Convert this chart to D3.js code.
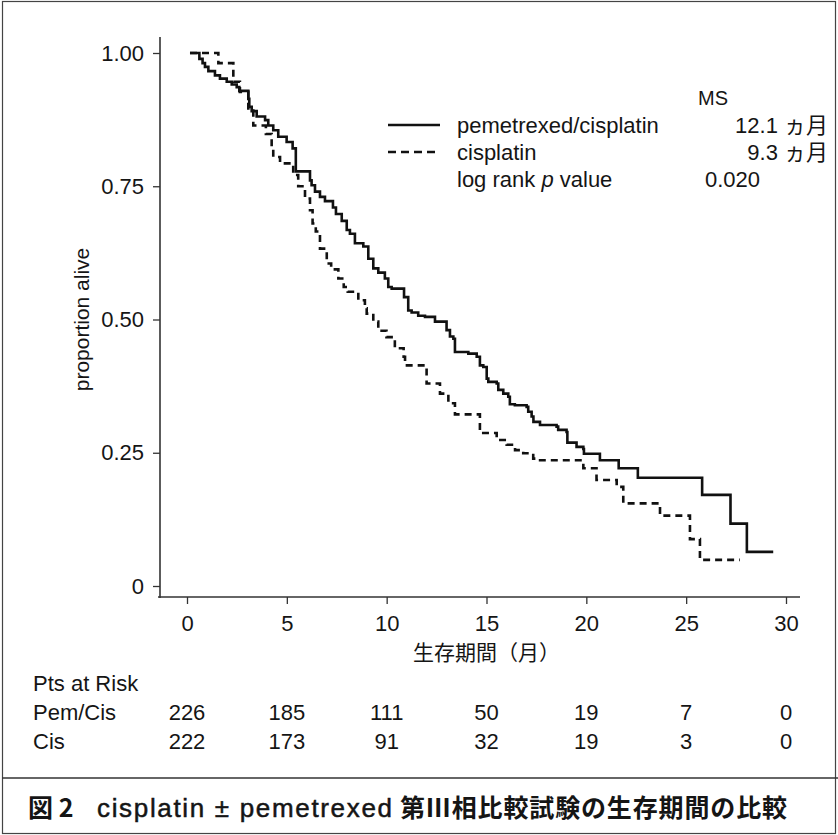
<!DOCTYPE html>
<meta charset="utf-8">
<title>cisplatin ± pemetrexed survival</title>
<script src="https://d3js.org/d3.v7.min.js"></script>
<style>
  body { margin: 0; background: #fff; }
  text { font-family: "Liberation Sans", "Noto Sans CJK JP", sans-serif; fill: #151515; }
  .jp { font-family: "Noto Sans CJK JP", sans-serif; }
</style>
<body>
<script>

// data
var months = [0, 5, 10, 15, 20, 25, 30];
var yTicks = [0, 0.25, 0.5, 0.75, 1];
var riskPemCis = [226, 185, 111, 50, 19, 7, 0];
var riskCis = [222, 173, 91, 32, 19, 3, 0];

// [month, proportion alive] – start of each step
var pemCis = [
  [0.15,1.000],[0.62,0.989],[0.78,0.981],[0.90,0.974],[1.07,0.966],[1.40,0.958],
  [1.65,0.952],[1.99,0.946],[2.24,0.941],[2.49,0.936],[2.62,0.929],[3.07,0.914],
  [3.12,0.899],[3.24,0.891],[3.49,0.881],[3.91,0.874],[4.07,0.864],[4.32,0.855],
  [4.57,0.843],[4.99,0.833],[5.29,0.821],[5.45,0.778],[6.16,0.761],[6.24,0.752],
  [6.41,0.740],[6.66,0.730],[6.91,0.722],[7.31,0.710],[7.46,0.698],[7.75,0.685],
  [8.00,0.668],[8.16,0.661],[8.41,0.643],[8.83,0.637],[9.08,0.614],[9.33,0.596],
  [9.58,0.588],[9.91,0.577],[10.08,0.561],[10.25,0.558],[10.87,0.542],[11.08,0.517],
  [11.25,0.513],[11.58,0.507],[11.92,0.505],[12.42,0.496],[13.00,0.480],[13.17,0.468],
  [13.34,0.464],[13.42,0.439],[14.09,0.436],[14.51,0.430],[14.67,0.414],[14.84,0.411],
  [15.01,0.389],[15.09,0.383],[15.51,0.380],[15.59,0.368],[15.84,0.361],[16.09,0.355],
  [16.17,0.341],[16.42,0.339],[17.01,0.336],[17.09,0.327],[17.26,0.318],[17.35,0.308],
  [17.68,0.302],[18.51,0.299],[18.59,0.293],[19.01,0.289],[19.05,0.269],[19.51,0.261],
  [19.85,0.257],[19.88,0.248],[20.68,0.236],[21.62,0.221],[22.58,0.203],[25.80,0.171],
  [27.22,0.117],[28.04,0.064],[29.36,0.064]
];
var cis = [
  [0.15,1.000],[1.57,0.981],[2.32,0.946],[2.65,0.927],[3.07,0.892],[3.32,0.864],
  [3.95,0.848],[4.24,0.821],[4.32,0.805],[4.66,0.793],[5.32,0.771],[5.57,0.750],
  [5.91,0.727],[6.16,0.705],[6.29,0.680],[6.45,0.665],[6.66,0.633],[7.00,0.605],
  [7.22,0.594],[7.58,0.577],[7.85,0.561],[8.05,0.552],[8.58,0.536],[8.91,0.521],
  [9.00,0.511],[9.33,0.496],[9.58,0.479],[9.99,0.467],[10.41,0.446],[10.85,0.430],
  [10.92,0.414],[12.00,0.380],[12.67,0.361],[13.09,0.343],[13.42,0.322],[14.67,0.287],
  [15.51,0.274],[16.01,0.265],[16.43,0.255],[16.84,0.249],[17.34,0.239],[17.60,0.236],
  [19.85,0.221],[20.51,0.199],[21.52,0.186],[21.85,0.155],[23.69,0.132],[25.19,0.088],
  [25.69,0.049],[27.69,0.049]
];

var seriesNames = ["pemetrexed/cisplatin", "cisplatin"];
var medianSurvival = ["12.1 ヵ月", "9.3 ヵ月"];
var pValue = "0.020";
var riskRows = ["Pem/Cis", "Cis"];

var width = 838, height = 835;

var svg = d3.select("body").append("svg")
    .attr("width", width)
    .attr("height", height);

// frame + caption separator
svg.append("rect")
    .attr("x", 2.5).attr("y", 1.5)
    .attr("width", width - 5).attr("height", height - 3)
    .attr("fill", "none").attr("stroke", "#444").attr("stroke-width", 1.2);
svg.append("line")
    .attr("x1", 2).attr("x2", width)
    .attr("y1", 778).attr("y2", 778)
    .attr("stroke", "#333").attr("stroke-width", 1.5);

var x = d3.scaleLinear().domain([0, 30]).range([187, 786]),
    y = d3.scaleLinear().domain([0, 1]).range([586, 53]);

// axes
var gx = svg.append("g")
    .attr("transform", "translate(0,597)")
    .call(d3.axisBottom(x).tickValues(months).tickSize(7).tickPadding(11).tickSizeOuter(0));
var gy = svg.append("g")
    .attr("transform", "translate(160,0)")
    .call(d3.axisLeft(y).tickValues(yTicks).tickSize(7).tickPadding(9).tickSizeOuter(0)
      .tickFormat(function(d) { return d === 0 ? "0" : d.toFixed(2); }));
[gx, gy].forEach(function(g) {
  g.select(".domain").remove();
  g.selectAll(".tick line").attr("stroke", "#333").attr("stroke-width", 1.3);
  g.selectAll(".tick text").attr("font-size", 22).attr("fill", "#151515")
    .style("font-family", "'Liberation Sans', sans-serif");
});
svg.append("line")
    .attr("x1", 158).attr("x2", 800).attr("y1", 597).attr("y2", 597)
    .attr("stroke", "#333").attr("stroke-width", 1.6);
svg.append("line")
    .attr("x1", 160).attr("x2", 160).attr("y1", 37).attr("y2", 598)
    .attr("stroke", "#333").attr("stroke-width", 1.6);

// axis titles
svg.append("text")
    .attr("class", "jp")
    .attr("x", (x(0) + x(30)) / 2).attr("y", 660)
    .attr("text-anchor", "middle")
    .attr("font-size", 21)
    .text("生存期間（月）");
svg.append("text")
    .attr("transform", "translate(89," + y(0.5) + ") rotate(-90)")
    .attr("text-anchor", "middle")
    .attr("font-size", 21)
    .text("proportion alive");

// survival curves
var line = d3.line()
    .x(function(d) { return x(d[0]); })
    .y(function(d) { return y(d[1]); })
    .curve(d3.curveStepAfter);

svg.append("path")
    .datum(pemCis)
    .attr("d", line)
    .attr("fill", "none").attr("stroke", "#111").attr("stroke-width", 2.6);
svg.append("path")
    .datum(cis)
    .attr("d", line)
    .attr("fill", "none").attr("stroke", "#111").attr("stroke-width", 2.6)
    .attr("stroke-dasharray", "7,5");

// legend
var legend = svg.append("g");
legend.append("text").attr("x", 698).attr("y", 105).attr("font-size", 20).text("MS");
var dashes = [null, "8,5"];
seriesNames.forEach(function(name, i) {
  var ly = 125 + i * 27;
  legend.append("line")
      .attr("x1", 388).attr("x2", 440).attr("y1", ly).attr("y2", ly)
      .attr("stroke", "#111").attr("stroke-width", 2.6)
      .attr("stroke-dasharray", dashes[i]);
  legend.append("text").attr("x", 457).attr("y", ly + 8).attr("font-size", 22).text(name);
  legend.append("text").attr("x", 828).attr("y", ly + 8).attr("font-size", 22)
      .attr("text-anchor", "end").text(medianSurvival[i]);
});
var lr = legend.append("text").attr("x", 457).attr("y", 187).attr("font-size", 22);
lr.append("tspan").text("log rank ");
lr.append("tspan").attr("font-style", "italic").text("p");
lr.append("tspan").text(" value");
legend.append("text").attr("x", 705).attr("y", 187).attr("font-size", 22).text(pValue);

// patients at risk
svg.append("text").attr("x", 33).attr("y", 691).attr("font-size", 22).text("Pts at Risk");
[riskPemCis, riskCis].forEach(function(row, i) {
  var ry = 720 + i * 29;
  svg.append("text").attr("x", 33).attr("y", ry).attr("font-size", 22).text(riskRows[i]);
  svg.selectAll(null)
      .data(row)
    .enter().append("text")
      .attr("x", function(d, j) { return x(months[j]); })
      .attr("y", ry)
      .attr("text-anchor", "middle")
      .attr("font-size", 22)
      .text(function(d) { return d; });
});

// caption (three pieces so the Latin part keeps natural spacing)
var cap = svg.append("g").attr("font-weight", 700);
cap.append("text").attr("class", "jp")
    .attr("x", 28).attr("y", 817).attr("font-size", 25)
    .text("図 2");
cap.append("text")
    .attr("x", 97).attr("y", 817).attr("font-size", 26)
    .attr("font-weight", 400)
    .style("font-family", "'Liberation Sans', sans-serif")
    .style("stroke", "#151515").style("stroke-width", 0.5)
    .attr("textLength", 295).attr("lengthAdjust", "spacing")
    .text("cisplatin ± pemetrexed");
cap.append("text").attr("class", "jp")
    .attr("x", 400).attr("y", 817).attr("font-size", 25)
    .attr("textLength", 387).attr("lengthAdjust", "spacing")
    .text("第Ⅲ相比較試験の生存期間の比較");

</script>
